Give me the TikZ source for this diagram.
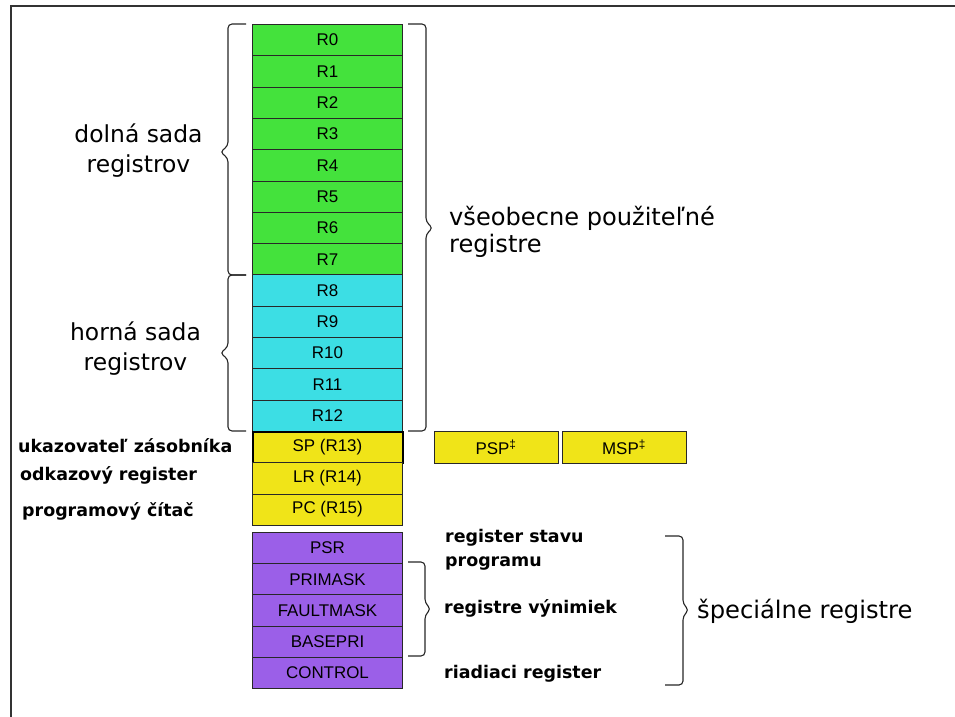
\documentclass[tikz,border=0pt]{standalone}
\usepackage{fontspec}
\setmainfont{Liberation Sans}
\newfontfamily\dv{DejaVu Sans}
\definecolor{regGreen}{RGB}{68,226,60}
\definecolor{regCyan}{RGB}{60,222,228}
\definecolor{regYellow}{RGB}{240,228,24}
\definecolor{regPurple}{RGB}{155,95,232}
\definecolor{regLine}{RGB}{40,40,40}
\begin{document}
\begin{tikzpicture}[x=1bp,y=-1bp,
  reg/.style={draw=regLine, line width=0.9bp, minimum width=150bp, minimum height=31.3bp, inner sep=0pt, anchor=north, font=\fontsize{17}{20}\selectfont},
  brc/.style={draw=black!85, line width=1.1bp, rounded corners=4bp},
  biglbl/.style={font=\dv\fontsize{23.5}{30}\selectfont, inner sep=0pt, align=center},
  smlbl/.style={font=\dv\bfseries\fontsize{17.5}{24}\selectfont, inner sep=0pt, anchor=base west}]
\useasboundingbox (0,0) rectangle (955,717);
\draw[line width=1.5bp, black!80] (955,6) -- (11,6) -- (11,717);
% general purpose registers
\foreach \i in {0,...,7}
  \node[reg, fill=regGreen] (r\i) at (327.5,24+\i*31.3) {R\i};
\foreach \i in {8,...,12}
  \node[reg, fill=regCyan] (r\i) at (327.5,24+\i*31.3) {R\i};
\node[reg, fill=regYellow, draw=black, line width=2bp] (sp) at (327.5,24+13*31.3) {SP (R13)};
\node[reg, fill=regYellow] (lr) at (327.5,24+14*31.3) {LR (R14)};
\node[reg, fill=regYellow] (pc) at (327.5,24+15*31.3) {PC (R15)};
\node[reg, fill=regYellow, minimum width=124bp, minimum height=32bp] (psp) at (496,431) {PSP\textsuperscript{‡}};
\node[reg, fill=regYellow, minimum width=124bp, minimum height=32bp] (msp) at (624,431) {MSP\textsuperscript{‡}};
% special registers
\node[reg, fill=regPurple, minimum height=31.2bp] (psr) at (327.5,532) {PSR};
\node[reg, fill=regPurple, minimum height=31.2bp] (primask) at (327.5,563.2) {PRIMASK};
\node[reg, fill=regPurple, minimum height=31.2bp] (faultmask) at (327.5,594.4) {FAULTMASK};
\node[reg, fill=regPurple, minimum height=31.2bp] (basepri) at (327.5,625.6) {BASEPRI};
\node[reg, fill=regPurple, minimum height=31.2bp] (control) at (327.5,656.8) {CONTROL};
% braces
\draw[brc] (246,24) -- (228,24) -- (228,146) -- (220,152) -- (228,158) -- (228,275) -- (246,275);
\draw[brc] (246,275) -- (228,275) -- (228,347) -- (220,353) -- (228,359) -- (228,431) -- (246,431);
\draw[brc] (408,24) -- (426,24) -- (426,222) -- (433,228) -- (426,234) -- (426,431) -- (408,431);
\draw[brc] (408,562) -- (425,562) -- (425,603) -- (431,609) -- (425,615) -- (425,656) -- (408,656);
\draw[brc] (665,536) -- (683,536) -- (683,604) -- (689,610) -- (683,616) -- (683,685) -- (665,685);
% big labels
\node[biglbl] (ldolna) at (138.5,150.6) {dolná sada\\registrov};
\node[biglbl] (lhorna) at (135.5,348.2) {horná sada\\registrov};
\node[biglbl, align=left, anchor=west, font=\dv\fontsize{24.2}{27}\selectfont] (lvseob) at (449,232.3) {všeobecne použiteľné\\registre};
\node[biglbl, anchor=base west, font=\dv\fontsize{24.3}{30}\selectfont] (lspec) at (697,618) {špeciálne registre};
% small labels
\node[smlbl] (lsp) at (18,452.7) {ukazovateľ zásobníka};
\node[smlbl] (llr) at (20,480) {odkazový register};
\node[smlbl] (lpc) at (22,516.7) {programový čítač};
\node[smlbl, anchor=north west, align=left] (lpsr) at (445,528.7) {register stavu\\programu};
\node[smlbl] (lexc) at (444,613.5) {registre výnimiek};
\node[smlbl] (lctrl) at (444,678) {riadiaci register};
\end{tikzpicture}
\end{document}
